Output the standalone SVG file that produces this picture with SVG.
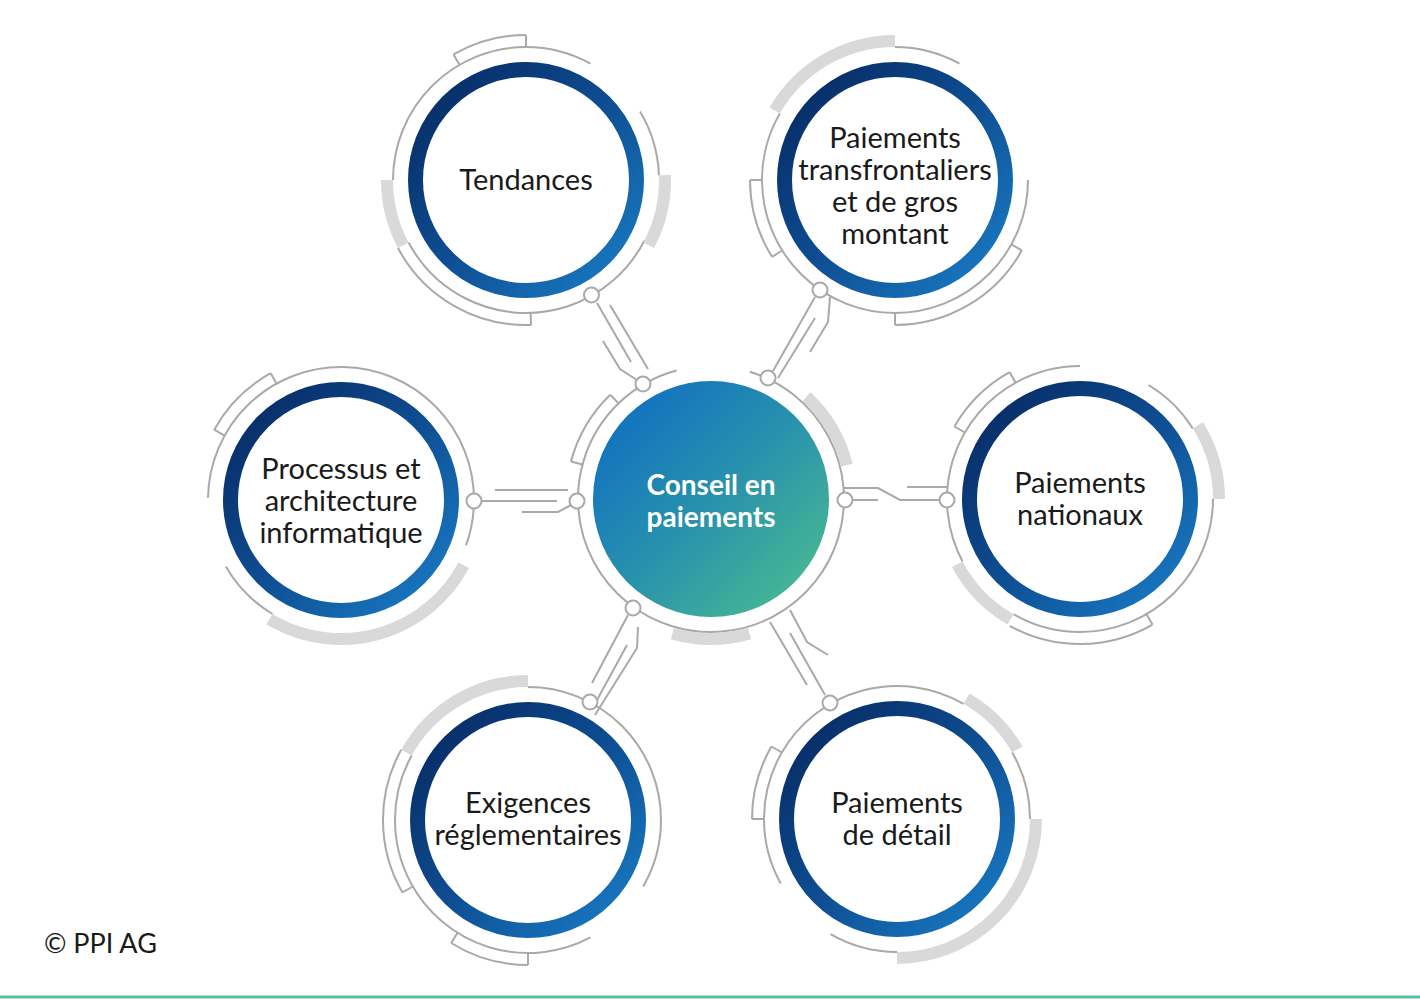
<svg xmlns="http://www.w3.org/2000/svg" width="1420" height="1000" viewBox="0 0 1420 1000">
<defs>
<linearGradient id="blue" x1="0" y1="0" x2="1" y2="1">
<stop offset="0" stop-color="#06275e"/>
<stop offset="0.5" stop-color="#0e4d92"/>
<stop offset="1" stop-color="#1a7fc8"/>
</linearGradient>
<linearGradient id="green" x1="0.1" y1="0.1" x2="0.9" y2="0.9">
<stop offset="0" stop-color="#1170c0"/>
<stop offset="0.5" stop-color="#2891ad"/>
<stop offset="1" stop-color="#48b893"/>
</linearGradient>
<style>
.thin{fill:none;stroke:#a9a9a9;stroke-width:2}
.gray{fill:none;stroke:#d9d9d9;stroke-width:12}
.ring{fill:#fff;stroke:url(#blue);stroke-width:15}
.lbl{font-family:Lato,"Noto Sans",sans-serif;font-size:29px;font-weight:400;fill:#1a1a1a;text-anchor:middle}
.clbl{font-family:Lato,"Noto Sans",sans-serif;font-size:28px;font-weight:bold;fill:#fff;text-anchor:middle}
.dot{fill:#fff;stroke:#a9a9a9;stroke-width:2}
.con{fill:none;stroke:#a9a9a9;stroke-width:2}
</style>
</defs>
<rect width="1420" height="1000" fill="#fff"/>

<g id="node-center" transform="translate(711,499)">
<circle class="thin" r="133" pathLength="360" stroke-dasharray="328 360" transform="rotate(287)"/>
<circle class="gray" r="140" pathLength="360" stroke-dasharray="33 360" transform="rotate(-47)"/>
<circle class="gray" r="140" pathLength="360" stroke-dasharray="32 360" transform="rotate(74)"/>
<circle class="thin" r="145" pathLength="360" stroke-dasharray="31 360" transform="rotate(195)"/>
<line class="thin" x1="133" x2="145" transform="rotate(195)"/>
<line class="thin" x1="133" x2="145" transform="rotate(226)"/>
<circle r="118" fill="url(#green)"/>
<text class="clbl" y="-4">Conseil en</text>
<text class="clbl" y="28">paiements</text>
</g>

<g id="node-tendances" transform="translate(526,180)">
<circle class="thin" r="133" pathLength="360" stroke-dasharray="119 360" transform="rotate(180)"/>
<circle class="thin" r="133" pathLength="360" stroke-dasharray="29 360" transform="rotate(329)"/>
<circle class="thin" r="133" pathLength="360" stroke-dasharray="125 360" transform="rotate(27)"/>
<circle class="gray" r="139" pathLength="360" stroke-dasharray="30 360" transform="rotate(-2)"/>
<circle class="gray" r="139" pathLength="360" stroke-dasharray="28 360" transform="rotate(152)"/>
<circle class="thin" r="145" pathLength="360" stroke-dasharray="30 360" transform="rotate(240)"/>
<line class="thin" x1="133" x2="145" transform="rotate(240)"/>
<line class="thin" x1="133" x2="145" transform="rotate(270)"/>
<circle class="thin" r="145" pathLength="360" stroke-dasharray="64 360" transform="rotate(88)"/>
<line class="thin" x1="133" x2="145" transform="rotate(88)"/>
<circle class="ring" r="110.5"/>
<text class="lbl" y="10">Tendances</text>
</g>

<g id="node-transfrontaliers" transform="translate(895,180)">
<circle class="thin" r="133" pathLength="360" stroke-dasharray="210 360" transform="rotate(0)"/>
<circle class="thin" r="133" pathLength="360" stroke-dasharray="29 360" transform="rotate(270)"/>
<circle class="gray" r="139" pathLength="360" stroke-dasharray="60 360" transform="rotate(210)"/>
<circle class="thin" r="145" pathLength="360" stroke-dasharray="61 360" transform="rotate(29)"/>
<line class="thin" x1="133" x2="145" transform="rotate(29)"/>
<line class="thin" x1="133" x2="145" transform="rotate(90)"/>
<circle class="thin" r="145" pathLength="360" stroke-dasharray="32 360" transform="rotate(148)"/>
<line class="thin" x1="133" x2="145" transform="rotate(148)"/>
<line class="thin" x1="133" x2="145" transform="rotate(180)"/>
<circle class="ring" r="110.5"/>
<text class="lbl" y="-32">Paiements</text>
<text class="lbl" y="0">transfrontaliers</text>
<text class="lbl" y="32">et de gros</text>
<text class="lbl" y="64">montant</text>
</g>

<g id="node-processus" transform="translate(341,500)">
<circle class="thin" r="133" pathLength="360" stroke-dasharray="179 360" transform="rotate(181)"/>
<circle class="thin" r="133" pathLength="360" stroke-dasharray="20 360" transform="rotate(0)"/>
<circle class="thin" r="133" pathLength="360" stroke-dasharray="29 360" transform="rotate(121)"/>
<circle class="gray" r="139" pathLength="360" stroke-dasharray="93 360" transform="rotate(28)"/>
<circle class="thin" r="145" pathLength="360" stroke-dasharray="32 360" transform="rotate(209)"/>
<line class="thin" x1="133" x2="145" transform="rotate(209)"/>
<line class="thin" x1="133" x2="145" transform="rotate(241)"/>
<circle class="ring" r="110.5"/>
<text class="lbl" y="-21">Processus et</text>
<text class="lbl" y="11">architecture</text>
<text class="lbl" y="43">informatique</text>
</g>

<g id="node-nationaux" transform="translate(1080,499)">
<circle class="thin" r="133" pathLength="360" stroke-dasharray="120 360" transform="rotate(0)"/>
<circle class="thin" r="133" pathLength="360" stroke-dasharray="118 360" transform="rotate(152)"/>
<circle class="thin" r="133" pathLength="360" stroke-dasharray="27 360" transform="rotate(301)"/>
<circle class="gray" r="139" pathLength="360" stroke-dasharray="32 360" transform="rotate(328)"/>
<circle class="gray" r="139" pathLength="360" stroke-dasharray="32 360" transform="rotate(120)"/>
<circle class="thin" r="145" pathLength="360" stroke-dasharray="31 360" transform="rotate(210)"/>
<line class="thin" x1="133" x2="145" transform="rotate(210)"/>
<line class="thin" x1="133" x2="145" transform="rotate(241)"/>
<circle class="thin" r="145" pathLength="360" stroke-dasharray="59 360" transform="rotate(60)"/>
<line class="thin" x1="133" x2="145" transform="rotate(60)"/>
<circle class="ring" r="110.5"/>
<text class="lbl" y="-6">Paiements</text>
<text class="lbl" y="26">nationaux</text>
</g>

<g id="node-exigences" transform="translate(528,820)">
<circle class="thin" r="133" pathLength="360" stroke-dasharray="120 360" transform="rotate(270)"/>
<circle class="thin" r="133" pathLength="360" stroke-dasharray="147 360" transform="rotate(62)"/>
<circle class="gray" r="139" pathLength="360" stroke-dasharray="61 360" transform="rotate(209)"/>
<circle class="thin" r="145" pathLength="360" stroke-dasharray="32 360" transform="rotate(90)"/>
<line class="thin" x1="133" x2="145" transform="rotate(90)"/>
<line class="thin" x1="133" x2="145" transform="rotate(122)"/>
<circle class="thin" r="145" pathLength="360" stroke-dasharray="59 360" transform="rotate(150)"/>
<line class="thin" x1="133" x2="145" transform="rotate(150)"/>
<circle class="ring" r="110.5"/>
<text class="lbl" y="-7">Exigences</text>
<text class="lbl" y="25">réglementaires</text>
</g>

<g id="node-detail" transform="translate(897,819)">
<circle class="thin" r="133" pathLength="360" stroke-dasharray="90 360" transform="rotate(210)"/>
<circle class="thin" r="133" pathLength="360" stroke-dasharray="30 360" transform="rotate(330)"/>
<circle class="thin" r="133" pathLength="360" stroke-dasharray="30 360" transform="rotate(90)"/>
<circle class="thin" r="133" pathLength="360" stroke-dasharray="59 360" transform="rotate(151)"/>
<circle class="gray" r="139" pathLength="360" stroke-dasharray="30 360" transform="rotate(300)"/>
<circle class="gray" r="139" pathLength="360" stroke-dasharray="90 360" transform="rotate(0)"/>
<circle class="thin" r="145" pathLength="360" stroke-dasharray="30 360" transform="rotate(180)"/>
<line class="thin" x1="133" x2="145" transform="rotate(180)"/>
<line class="thin" x1="133" x2="145" transform="rotate(210)"/>
<circle class="ring" r="110.5"/>
<text class="lbl" y="-6">Paiements</text>
<text class="lbl" y="26">de détail</text>
</g>

<g id="connectors">
<polyline class="con" points="482,501 557,501"/>
<polyline class="con" points="495,490 568,490"/>
<polyline class="con" points="522,512 558,512 571,505"/>
<polyline class="con" points="844,488 878,488 900,500 940,500"/>
<polyline class="con" points="852,500 878,500"/>
<polyline class="con" points="907,487 947,487"/>
<polyline class="con" points="597,303 631,362"/>
<polyline class="con" points="610,305 648,369"/>
<polyline class="con" points="603,341 620,369 637,380"/>
<polyline class="con" points="815,297 773,371"/>
<polyline class="con" points="815,318 778,378"/>
<polyline class="con" points="830,297 828,322 810,352"/>
<polyline class="con" points="628,615 592,683"/>
<polyline class="con" points="627,645 597,700"/>
<polyline class="con" points="638,627 637,648 595,715"/>
<polyline class="con" points="770,622 807,685"/>
<polyline class="con" points="790,610 807,642 828,655"/>
<polyline class="con" points="790,633 825,695"/>
<circle class="dot" cx="474" cy="501" r="7.5"/>
<circle class="dot" cx="577" cy="501" r="7.5"/>
<circle class="dot" cx="845" cy="500" r="7.5"/>
<circle class="dot" cx="947" cy="500" r="7.5"/>
<circle class="dot" cx="591.5" cy="295" r="7.5"/>
<circle class="dot" cx="643" cy="384" r="7.5"/>
<circle class="dot" cx="820" cy="290" r="7.5"/>
<circle class="dot" cx="768" cy="378" r="7.5"/>
<circle class="dot" cx="633" cy="608" r="7.5"/>
<circle class="dot" cx="590" cy="702" r="7.5"/>
<circle class="dot" cx="830" cy="703" r="7.5"/>
</g>

<text x="44" y="953" font-family="Lato, 'Noto Sans', sans-serif" font-size="27" fill="#1a1a1a">© PPI AG</text>
<rect x="0" y="995.5" width="1420" height="3" fill="#5cbfa4"/>
</svg>
